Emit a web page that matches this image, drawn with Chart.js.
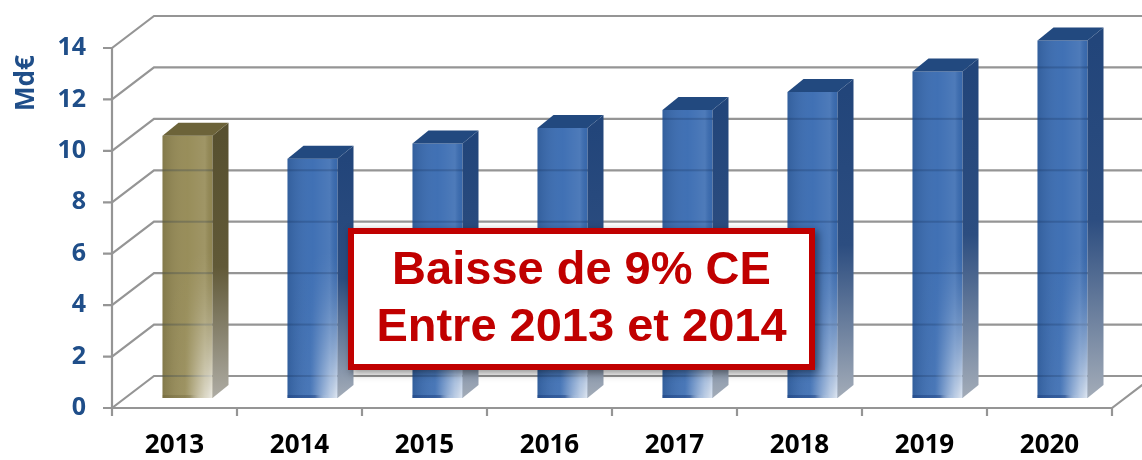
<!DOCTYPE html>
<html><head><meta charset="utf-8">
<script src="https://cdn.jsdelivr.net/npm/chart.js@4"></script>
<style>html,body{margin:0;padding:0;background:#fff;overflow:hidden}#wrap{width:1142px;height:460px;position:relative}</style>
</head><body><div id="wrap"><canvas id="c" width="1142" height="460"></canvas></div>
<script>
// ---- data ----
const years = ['2013','2014','2015','2016','2017','2018','2019','2020'];
const values = [10.2, 9.3, 9.9, 10.5, 11.2, 11.9, 12.7, 13.9];
const yMin = 0, yMax = 14, yStep = 2;
const axisTitle = 'Md€';
const noteLines = ['Baisse de 9% CE', 'Entre 2013 et 2014'];
const highlightIndex = 0;

// ---- style ----
const BLUE = {front:'#3a6cb2', side:['#22457a','#2c4d80','#a3acb8'], top:'#22497f', base:'rgba(25,60,125,0.45)'};
const GOLD = {front:'#958a55', side:['#57502f','#615937','#aeaca4'], top:'#6c6339', base:'rgba(90,80,40,0.25)'};
const BAR_SHIFT = {x:13, y:10};     // bar plane vs front plane
const WALL = {x:42, y:-32};         // front plane -> back wall
const BAR_DEPTH = {x:16, y:-13};
const GRID = '#959595';

const scheme = i => i === highlightIndex ? GOLD : BLUE;

const frame3d = {
  id:'frame3d',
  beforeDatasetsDraw(chart){
    const c = chart.ctx, ys = chart.scales.y, xs = chart.scales.x;
    const n = years.length, catW = xs.width / n;
    const fx0 = xs.left - BAR_SHIFT.x, fx1 = xs.right - BAR_SHIFT.x;
    c.save();
    c.strokeStyle = GRID; c.lineWidth = 2.2; c.lineCap = 'butt';
    ys.ticks.forEach(t => {
      const yf = ys.getPixelForValue(t.value) + BAR_SHIFT.y;
      const yb = yf + WALL.y;
      c.beginPath();
      c.moveTo(fx0 - 9, yf); c.lineTo(fx0, yf);
      c.lineTo(fx0 + WALL.x, yb); c.lineTo(fx1 + WALL.x + 60, yb);
      c.stroke();
    });
    const yTop = ys.getPixelForValue(yMax) + BAR_SHIFT.y;
    const y0 = ys.getPixelForValue(yMin) + BAR_SHIFT.y;
    c.beginPath(); c.moveTo(fx0, yTop); c.lineTo(fx0, y0); c.stroke();
    c.beginPath(); c.moveTo(fx0, y0); c.lineTo(fx1, y0); c.lineTo(fx1 + WALL.x, y0 + WALL.y); c.stroke();
    for (let k = 0; k <= n; k++) {
      const x = fx0 + k * catW;
      c.beginPath(); c.moveTo(x, y0); c.lineTo(x, y0 + 8); c.stroke();
    }
    c.restore();
  },
  afterDatasetsDraw(chart){
    const c = chart.ctx, ys = chart.scales.y;
    const meta = chart.getDatasetMeta(0);
    meta.data.forEach((bar, i) => {
      const s = scheme(i);
      const {x, y, base, width} = bar.getProps(['x','y','base','width'], true);
      const l = x - width/2, r = x + width/2;
      c.save();
      let g = c.createLinearGradient(l, 0, r, 0);
      g.addColorStop(0, 'rgba(0,0,0,0.12)');
      g.addColorStop(0.5, 'rgba(255,255,255,0.03)');
      g.addColorStop(0.85, 'rgba(255,255,255,0.10)');
      g.addColorStop(1, 'rgba(0,0,0,0.03)');
      c.fillStyle = g; c.fillRect(l, y, width, base - y);
      c.fillStyle = 'rgba(15,35,75,0.22)';
      ys.ticks.forEach(t => {
        const yb = ys.getPixelForValue(t.value) + BAR_SHIFT.y + WALL.y;
        if (yb > y + 2 && yb < base) c.fillRect(l, yb - 1, width, 2);
      });
      g = c.createLinearGradient(l, 0, r, 0);
      g.addColorStop(0, 'rgba(255,255,255,0)');
      g.addColorStop(0.45, 'rgba(255,255,255,0.05)');
      g.addColorStop(0.8, 'rgba(255,255,255,0.55)');
      g.addColorStop(1, 'rgba(255,255,255,0.85)');
      c.fillStyle = g;
      const h = Math.min(150, base - y);
      for (let k = 0; k < h; k++) {
        const f = Math.pow((k + 1) / h, 1.6);
        c.globalAlpha = f;
        c.fillRect(l, base - h + k, width, 1);
      }
      c.globalAlpha = 1;
      g = c.createLinearGradient(l, 0, r, 0);
      g.addColorStop(0, s.base); g.addColorStop(0.55, s.base); g.addColorStop(0.8, 'rgba(255,255,255,0)');
      c.fillStyle = g;
      c.fillRect(l, base - 3, width, 3);
      g = c.createLinearGradient(0, y, 0, base);
      g.addColorStop(0, s.side[0]); g.addColorStop(0.5, s.side[1]); g.addColorStop(1, s.side[2]);
      c.fillStyle = g;
      c.beginPath();
      c.moveTo(r, y); c.lineTo(r + BAR_DEPTH.x, y + BAR_DEPTH.y);
      c.lineTo(r + BAR_DEPTH.x, base + BAR_DEPTH.y); c.lineTo(r, base); c.closePath(); c.fill();
      c.fillStyle = s.top;
      c.beginPath();
      c.moveTo(l, y); c.lineTo(l + BAR_DEPTH.x, y + BAR_DEPTH.y);
      c.lineTo(r + BAR_DEPTH.x, y + BAR_DEPTH.y); c.lineTo(r, y); c.closePath(); c.fill();
      c.restore();
    });
  },
  afterDraw(chart){
    const c = chart.ctx, ys = chart.scales.y;
    c.save();
    c.translate(27, ys.getPixelForValue(yMax) + BAR_SHIFT.y + 35);
    c.rotate(-Math.PI/2);
    c.fillStyle = '#1f4e89';
    c.font = 'bold 26px "Open Sans"';
    c.textAlign = 'center'; c.textBaseline = 'middle';
    c.fillText(axisTitle, 0, 0);
    c.restore();
    const bx = 348, by = 228, bw = 467, bh = 142;
    c.save();
    c.shadowColor = 'rgba(0,0,0,0.45)'; c.shadowBlur = 8; c.shadowOffsetX = 3; c.shadowOffsetY = 3;
    c.fillStyle = '#ffffff'; c.fillRect(bx, by, bw, bh);
    c.shadowColor = 'transparent';
    c.strokeStyle = '#c00000'; c.lineWidth = 6;
    c.strokeRect(bx + 3, by + 3, bw - 6, bh - 6);
    c.fillStyle = '#c00000';
    c.font = 'bold 47px "Liberation Sans", Arial, sans-serif';
    c.textAlign = 'center'; c.textBaseline = 'middle';
    c.fillText(noteLines[0], bx + bw/2, by + 43);
    c.fillText(noteLines[1], bx + bw/2, by + 100);
    c.restore();
  }
};

new Chart(document.getElementById('c'), {
  type:'bar',
  data:{
    labels: years,
    datasets:[{
      data: values,
      backgroundColor: values.map((v,i) => scheme(i).front),
      borderWidth: 0,
      barPercentage: 0.4,
      categoryPercentage: 1
    }]
  },
  options:{
    responsive:false,
    animation:false,
    devicePixelRatio:1,
    layout:{padding:{top:38, right:17, left:0, bottom:0}},
    plugins:{legend:{display:false}, tooltip:{enabled:false}},
    scales:{
      x:{
        grid:{display:false, drawTicks:false},
        border:{display:false},
        ticks:{labelOffset:-BAR_SHIFT.x, padding:32, color:'#000', font:{family:'"Open Sans"', size:26, weight:'bold'}},
        afterFit(s){ s.height = 62; s.paddingLeft = 0; s.paddingRight = 0; }
      },
      y:{
        min:yMin, max:yMax,
        grid:{display:false, drawTicks:false},
        border:{display:false},
        ticks:{stepSize:yStep, labelOffset:BAR_SHIFT.y, padding:39, color:'#1f4e89', font:{family:'"Open Sans"', size:25, weight:'bold'}},
        afterFit(s){ s.width = 125; s.paddingTop = 0; s.paddingBottom = 0; }
      }
    }
  },
  plugins:[frame3d]
});
</script>
</body></html>
